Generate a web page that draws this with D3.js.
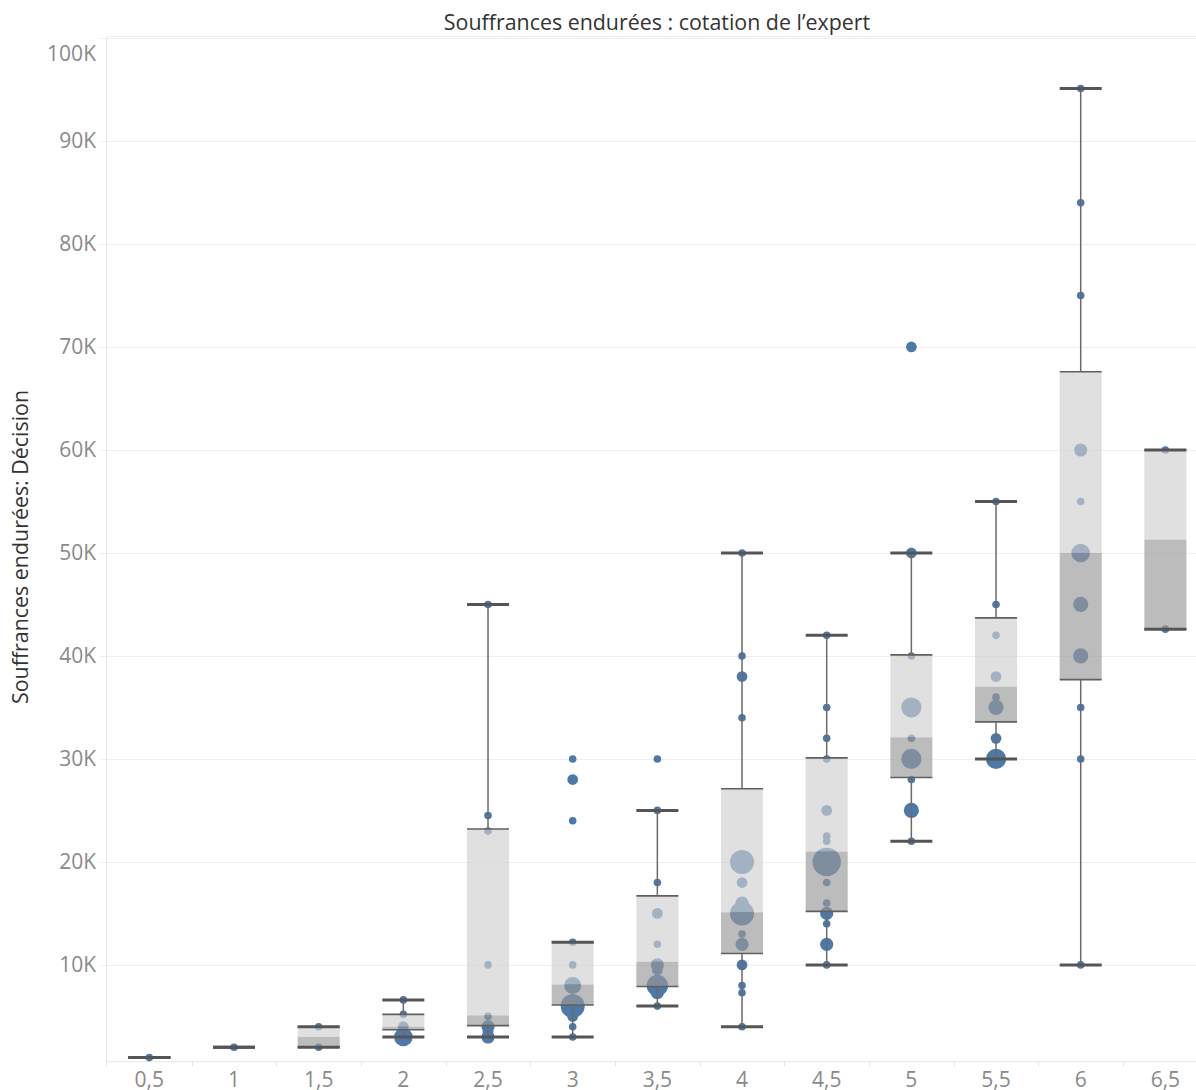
<!DOCTYPE html>
<html><head><meta charset="utf-8">
<script src="https://cdn.jsdelivr.net/npm/d3@7"></script>
<style>
html,body{margin:0;padding:0;background:#fff;}
svg{display:block;font-family:"Open Sans",Lato,sans-serif;}
</style></head>
<body><svg id="chart" width="1196" height="1090"></svg>
<script>
// ---- data ----
const categories = ["0,5","1","1,5","2","2,5","3","3,5","4","4,5","5","5,5","6","6,5"];
const whiskerLow  = [1000,2000,2000,3000,3000,3000,6000,4000,10000,22000,30000,10000,42600];
const q1          = [1000,2000,2000,3700,4100,6100,7900,11100,15200,28200,33600,37700,42600];
const median      = [1000,2000,3000,4000,5100,8100,10300,15100,21000,32100,37000,50000,51300];
const q3          = [1000,2000,4000,5200,23200,12200,16700,27100,30100,40100,43700,67600,60000];
const whiskerHigh = [1000,2000,4000,6600,45000,12200,25000,50000,42000,50000,55000,95100,60000];
// points: [category, value, count]
const points = [
  ["0,5",1000,1],
  ["1",2000,1],
  ["1,5",2000,1],["1,5",4000,1],
  ["2",6600,1],["2",5200,1],["2",4000,2],["2",3500,2],["2",3000,6],
  ["2,5",45000,1],["2,5",24500,1],["2,5",23000,1],["2,5",10000,1],["2,5",5000,1],["2,5",4000,3],["2,5",3500,2],["2,5",3000,3],
  ["3",30000,1],["3",28000,2],["3",24000,1],["3",12200,1],["3",10000,1],["3",8000,5],["3",6000,10],["3",5000,2],["3",4000,1],["3",3000,1],
  ["3,5",30000,1],["3,5",25000,1],["3,5",18000,1],["3,5",15000,2],["3,5",12000,1],["3,5",10000,3],["3,5",9500,2],["3,5",8000,8],["3,5",7300,3],["3,5",6000,1],
  ["4",50000,1],["4",40000,1],["4",38000,2],["4",34000,1],["4",20000,10],["4",18000,2],["4",16000,3],["4",15000,10],["4",13000,1],["4",12000,3],["4",10000,2],["4",8000,1],["4",7300,1],["4",4000,1],
  ["4,5",42000,1],["4,5",35000,1],["4,5",32000,1],["4,5",30000,1],["4,5",25000,2],["4,5",22500,1],["4,5",22000,1],["4,5",20000,14],["4,5",18000,1],["4,5",16000,1],["4,5",15000,3],["4,5",14000,1],["4,5",12000,3],["4,5",10000,1],
  ["5",70000,2],["5",50000,2],["5",40000,1],["5",35000,7],["5",32000,1],["5",30000,7],["5",28000,1],["5",25000,4],["5",22000,1],
  ["5,5",55000,1],["5,5",45000,1],["5,5",42000,1],["5,5",38000,2],["5,5",36000,1],["5,5",35000,4],["5,5",32000,2],["5,5",30000,7],
  ["6",95100,1],["6",84000,1],["6",75000,1],["6",60000,3],["6",55000,1],["6",50000,6],["6",45000,4],["6",40000,4],["6",35000,1],["6",30000,1],["6",10000,1],
  ["6,5",60000,1],["6,5",42600,1]
];
const yTicks = [10000,20000,30000,40000,50000,60000,70000,80000,90000,100000];
const chartTitle = "Souffrances endurées : cotation de l\u2019expert";
const yTitle = "Souffrances endurées: Décision";

// ---- layout ----
const W = 1196, H = 1090;
const plotLeft = 107, plotTop = 36.5, plotBottom = 1061.7, step = 84.67;
const svg = d3.select("#chart");
const x = d3.scaleBand().domain(categories).range([plotLeft, plotLeft + step * categories.length]).padding(0);
const y = d3.scaleLinear().domain([600, 100150]).range([plotBottom, plotTop]);
const r = d3.scaleSqrt().domain([0, 1]).range([0, 3.8]);
const boxW = x.bandwidth() * 0.496;
const cx = c => x(c) + x.bandwidth() / 2;

// gridlines
svg.append("g").selectAll("line").data(yTicks).join("line")
  .attr("x1", 100).attr("x2", W).attr("y1", d => Math.round(y(d)) + 0.5).attr("y2", d => Math.round(y(d)) + 0.5)
  .attr("stroke", "#efefef").attr("stroke-width", 1);
svg.append("line").attr("x1", plotLeft).attr("x2", W).attr("y1", plotTop).attr("y2", plotTop).attr("stroke", "#efefef");
svg.append("line").attr("x1", plotLeft - 0.5).attr("x2", plotLeft - 0.5).attr("y1", plotTop).attr("y2", plotBottom + 5).attr("stroke", "#e6e6e6");
svg.append("line").attr("x1", plotLeft).attr("x2", W).attr("y1", plotBottom).attr("y2", plotBottom).attr("stroke", "#e6e6e6");
svg.append("g").selectAll("line").data(categories.slice(1)).join("line")
  .attr("x1", d => Math.round(x(d)) + 0.5).attr("x2", d => Math.round(x(d)) + 0.5)
  .attr("y1", plotBottom).attr("y2", plotBottom + 5).attr("stroke", "#e6e6e6");

// y axis labels
const yAxis = d3.axisLeft(y).tickValues(yTicks).tickSize(0).tickPadding(11)
  .tickFormat(d => (d / 1000) + "K");
const ya = svg.append("g").attr("transform", `translate(${plotLeft},0)`).call(yAxis);
ya.select(".domain").remove();
ya.selectAll("text").attr("fill", "#8a8a8a").style("font-size", "21px").style("font-family", "'Open Sans', sans-serif");
ya.selectAll(".tick").filter(d => d === 100000).select("text").attr("dy", "1.05em");

// x axis labels
const xAxis = d3.axisBottom(x).tickSize(0).tickPadding(10);
const xa = svg.append("g").attr("transform", `translate(0,${plotBottom})`).call(xAxis);
xa.select(".domain").remove();
xa.selectAll("text").attr("fill", "#8a8a8a").style("font-size", "21px").style("font-family", "'Open Sans', sans-serif");

// points
const pts = points.slice().sort((a, b) => b[2] - a[2]);
svg.append("g").selectAll("circle").data(pts).join("circle")
  .attr("cx", d => cx(d[0])).attr("cy", d => y(d[1])).attr("r", d => r(d[2]))
  .attr("fill", "#4e79a7");

// boxes (semi transparent over points)
const boxes = categories.map((c, i) => ({c, lo: whiskerLow[i], q1: q1[i], med: median[i], q3: q3[i], hi: whiskerHigh[i]}));
const bg = svg.append("g");
bg.selectAll("rect.upper").data(boxes).join("rect").attr("class", "upper")
  .attr("x", d => cx(d.c) - boxW / 2).attr("width", boxW)
  .attr("y", d => y(d.q3)).attr("height", d => y(d.med) - y(d.q3))
  .attr("fill", "#d0d0d0").attr("fill-opacity", 0.655);
bg.selectAll("rect.lower").data(boxes).join("rect").attr("class", "lower")
  .attr("x", d => cx(d.c) - boxW / 2).attr("width", boxW)
  .attr("y", d => y(d.med)).attr("height", d => y(d.q1) - y(d.med))
  .attr("fill", "#999999").attr("fill-opacity", 0.655);
["q1", "q3"].forEach(k => {
  bg.selectAll("line." + k).data(boxes).join("line").attr("class", k)
    .attr("x1", d => cx(d.c) - boxW / 2).attr("x2", d => cx(d.c) + boxW / 2)
    .attr("y1", d => y(d[k])).attr("y2", d => y(d[k]))
    .attr("stroke", "#5f5f5f").attr("stroke-width", 1.6);
});
bg.selectAll("line.wu").data(boxes).join("line").attr("class", "wu")
  .attr("x1", d => cx(d.c)).attr("x2", d => cx(d.c))
  .attr("y1", d => y(d.q3)).attr("y2", d => y(d.hi))
  .attr("stroke", "#6a6a6a").attr("stroke-width", 1.5);
bg.selectAll("line.wl").data(boxes).join("line").attr("class", "wl")
  .attr("x1", d => cx(d.c)).attr("x2", d => cx(d.c))
  .attr("y1", d => y(d.q1)).attr("y2", d => y(d.lo))
  .attr("stroke", "#6a6a6a").attr("stroke-width", 1.5);
["lo", "hi"].forEach(k => {
  bg.selectAll("line.cap" + k).data(boxes).join("line").attr("class", "cap" + k)
    .attr("x1", d => cx(d.c) - boxW / 2).attr("x2", d => cx(d.c) + boxW / 2)
    .attr("y1", d => y(d[k])).attr("y2", d => y(d[k]))
    .attr("stroke", "#555555").attr("stroke-width", 3);
});

// titles
svg.append("text").attr("x", 657).attr("y", 30).attr("text-anchor", "middle")
  .attr("fill", "#333").style("font-size", "21.4px").text(chartTitle);
svg.append("text").attr("transform", "translate(28,547) rotate(-90)").attr("text-anchor", "middle")
  .attr("fill", "#333").style("font-size", "21.4px").text(yTitle);
</script></body></html>
